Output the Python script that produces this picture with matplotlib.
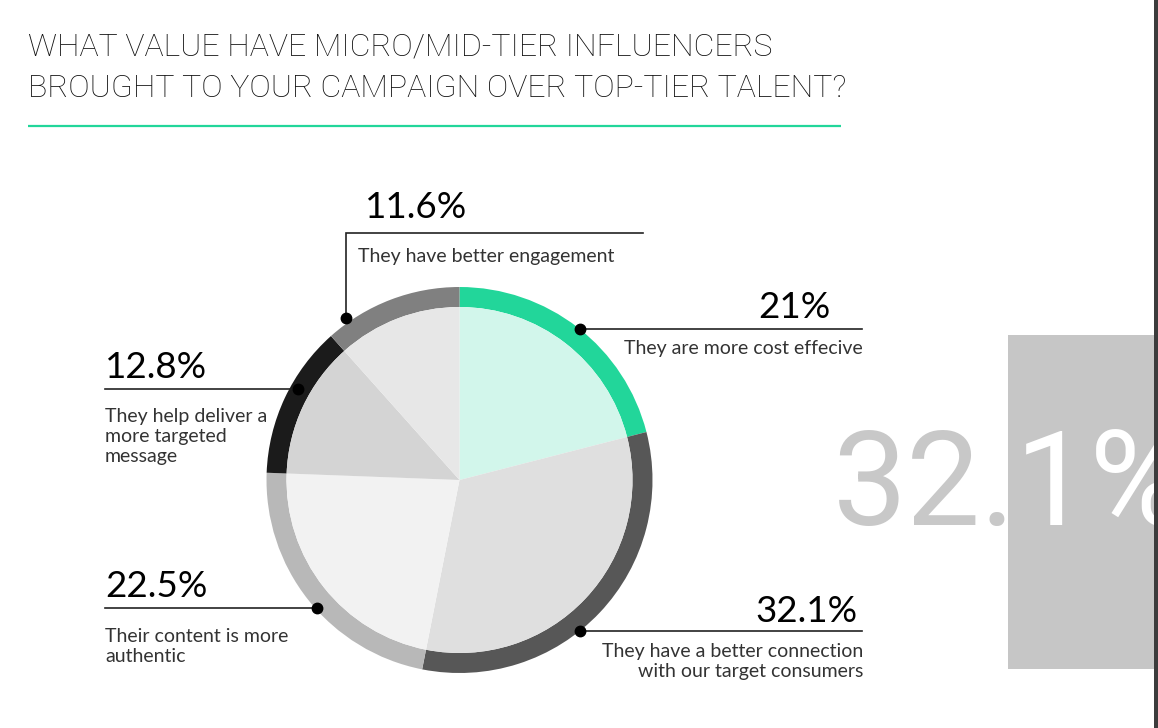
import numpy as np
import matplotlib
matplotlib.use("Agg")
import matplotlib.pyplot as plt
from matplotlib.patches import Rectangle

################################################################################
# Data
################################################################################
shares      = [21.0, 32.1, 22.5, 12.8, 11.6]
pct_labels  = ["21%", "32.1%", "22.5%", "12.8%", "11.6%"]
descriptions = [
    "They are more cost effecive",
    "They have a better connection\nwith our target consumers",
    "Their content is more\nauthentic",
    "They help deliver a\nmore targeted\nmessage",
    "They have better engagement",
]
title_lines = ["WHAT VALUE HAVE MICRO/MID-TIER INFLUENCERS",
               "BROUGHT TO YOUR CAMPAIGN OVER TOP-TIER TALENT?"]
highlight   = "32.1%"

################################################################################
# Style
################################################################################
W, H        = 1158, 728
ring_colors = ["#22d69a", "#575757", "#b8b8b8", "#1b1b1b", "#808080"]
fill_colors = ["#d2f6eb", "#dfdfdf", "#f2f2f2", "#d4d4d4", "#e7e7e7"]
GREEN       = "#22d69a"
TEXT_DARK   = "#333333"
LINE_COL    = "#222222"
FONT        = "Lato"
THIN_FONT   = "Roboto"

# pie geometry (pixels, y measured from the top)
CX, CY      = 459.5, 480
R_OUT       = 193
RING_W      = 20

# annotation dots: angle clockwise from top (deg), radius (px)
dot_angle   = [38.7, 141.5, 228.0, 299.5, 325.0]
dot_radius  = [193, 193, 192, 185, 198]


def Y(y):
    # convert screen y (from top) to data y
    return H - y


################################################################################
# Figure
################################################################################
fig = plt.figure(figsize=(W / 100, H / 100), dpi=100)
ax = fig.add_axes([0, 0, 1, 1])

ax.pie(shares, radius=R_OUT, center=(CX, Y(CY)), startangle=90,
       counterclock=False, colors=ring_colors,
       wedgeprops=dict(width=RING_W, linewidth=0))
ax.pie(shares, radius=R_OUT - RING_W, center=(CX, Y(CY)), startangle=90,
       counterclock=False, colors=fill_colors,
       wedgeprops=dict(linewidth=0))

ax.set_xlim(0, W)
ax.set_ylim(0, H)
ax.set_aspect("equal")
ax.axis("off")

# title + rule
for txt, base in zip(title_lines, [55, 97]):
    ax.text(28, Y(base), txt, fontsize=23, family=THIN_FONT,
            fontweight="light", color="#111111", va="baseline", ha="left")
ax.plot([28, 841], [Y(126), Y(126)], color=GREEN, lw=1.6,
        solid_capstyle="butt")

# dots
dots = []
for a, r in zip(dot_angle, dot_radius):
    t = np.deg2rad(a)
    dots.append((CX + r * np.sin(t), CY - r * np.cos(t)))

PCT_SIZE  = 26.5
DESC_SIZE = 14

# label layout: (pct x, pct baseline, ha, desc x, desc top baseline)
layout = [
    (830, 318, "right", 863, 354),
    (858, 622, "right", 863, 657),
    (105, 597, "left", 105, 642),
    (105, 378, "left", 105, 422),
    (365, 218, "left", 358, 262),
]

for i, (dx, dy) in enumerate(dots):
    px, py, ha, tx, ty = layout[i]
    if i == 4:
        ax.plot([dx, dx, 643], [Y(dy), Y(233), Y(233)], color=LINE_COL,
                lw=1.2, solid_joinstyle="miter")
    elif ha == "right":
        ax.plot([dx, 862], [Y(dy), Y(dy)], color=LINE_COL, lw=1.2)
    else:
        ax.plot([105, dx], [Y(dy), Y(dy)], color=LINE_COL, lw=1.2)
    ax.plot(dx, Y(dy), "o", color="black", markersize=7.5, zorder=5)

    ax.text(px, Y(py), pct_labels[i], fontsize=PCT_SIZE, family=FONT,
            color="black", ha=ha, va="baseline")
    lines = descriptions[i].split("\n")
    for k, line in enumerate(lines):
        ax.text(tx, Y(ty + 20 * k), line, fontsize=DESC_SIZE, family=FONT,
                color=TEXT_DARK, ha=ha, va="baseline")

# big highlighted number with grey block
ax.text(833, Y(525), highlight, fontsize=95, family=THIN_FONT,
        color="#c8c8c8", ha="left", va="baseline", zorder=2)
block = Rectangle((1008, Y(669)), 1154 - 1008, 669 - 335,
                  facecolor="#c6c6c6", edgecolor="none", zorder=3)
ax.add_patch(block)
white_txt = ax.text(833, Y(525), highlight, fontsize=95, family=THIN_FONT,
                    color="white", ha="left", va="baseline", zorder=4,
                    clip_on=True)
white_txt.set_clip_path(block)
ax.add_patch(Rectangle((1154, 0), 4, H, facecolor="#3c3c3c",
                       edgecolor="none", zorder=6))

fig.savefig("out.png", dpi=100)
